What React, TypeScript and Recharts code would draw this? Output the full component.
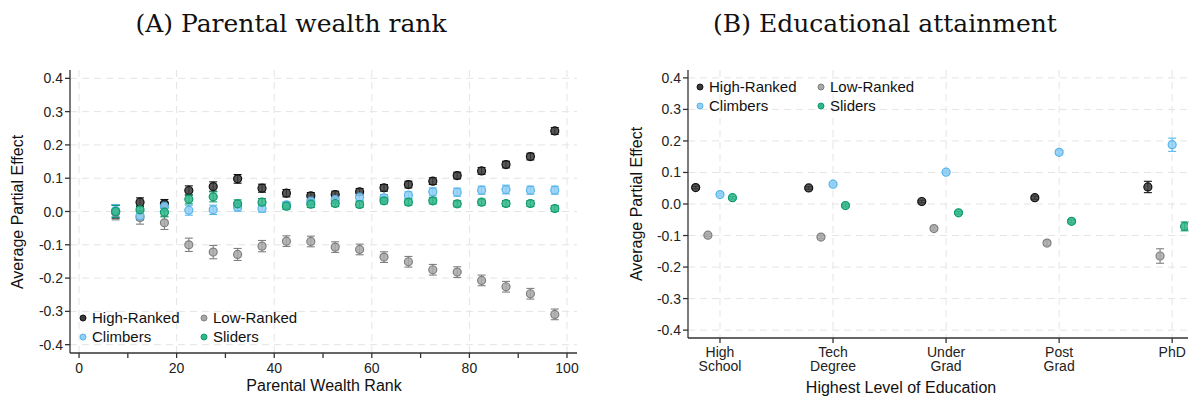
import React from "react";
import {
  ScatterChart,
  Scatter,
  XAxis,
  YAxis,
  CartesianGrid,
  ErrorBar,
  Legend,
} from "recharts";

// Panel A: parental wealth rank bins
const ranks = [7.5, 12.5, 17.5, 22.5, 27.5, 32.5, 37.5, 42.5, 47.5, 52.5, 57.5, 62.5, 67.5, 72.5, 77.5, 82.5, 87.5, 92.5, 97.5];
const highRanked = [0.0, 0.028, 0.023, 0.063, 0.075, 0.098, 0.07, 0.055, 0.047, 0.051, 0.059, 0.071, 0.081, 0.091, 0.108, 0.122, 0.141, 0.165, 0.242];
const highRankedErr = [0.02, 0.013, 0.013, 0.014, 0.014, 0.013, 0.012, 0.011, 0.01, 0.01, 0.01, 0.01, 0.01, 0.01, 0.01, 0.01, 0.01, 0.01, 0.01];
const lowRanked = [-0.003, -0.018, -0.034, -0.1, -0.122, -0.129, -0.104, -0.089, -0.09, -0.107, -0.114, -0.137, -0.151, -0.175, -0.182, -0.207, -0.226, -0.247, -0.309];
const lowRankedErr = [0.022, 0.02, 0.02, 0.02, 0.02, 0.018, 0.017, 0.016, 0.016, 0.016, 0.016, 0.016, 0.016, 0.016, 0.016, 0.016, 0.016, 0.016, 0.016];
const climbers = [0.003, -0.013, 0.015, 0.004, 0.005, 0.013, 0.009, 0.02, 0.031, 0.036, 0.043, 0.041, 0.049, 0.059, 0.058, 0.064, 0.066, 0.064, 0.064];
const climbersErr = [0.018, 0.014, 0.014, 0.015, 0.014, 0.012, 0.011, 0.01, 0.01, 0.01, 0.01, 0.01, 0.01, 0.012, 0.012, 0.012, 0.013, 0.012, 0.012];
const sliders = [0.0, 0.005, -0.002, 0.037, 0.044, 0.023, 0.028, 0.016, 0.022, 0.024, 0.021, 0.032, 0.028, 0.032, 0.023, 0.028, 0.024, 0.024, 0.009];
const slidersErr = [0.018, 0.013, 0.014, 0.014, 0.015, 0.012, 0.011, 0.01, 0.01, 0.009, 0.009, 0.009, 0.009, 0.009, 0.009, 0.009, 0.009, 0.009, 0.009];

// Panel B: education levels
const eduLevels = ["High\nSchool", "Tech\nDegree", "Under\nGrad", "Post\nGrad", "PhD"];
const eduHigh = [0.052, 0.051, 0.008, 0.02, 0.054];
const eduHighErr = [0.004, 0.004, 0.004, 0.005, 0.018];
const eduLow = [-0.099, -0.105, -0.078, -0.124, -0.165];
const eduLowErr = [0.004, 0.005, 0.005, 0.007, 0.023];
const eduClimb = [0.03, 0.063, 0.101, 0.164, 0.188];
const eduClimbErr = [0.004, 0.004, 0.004, 0.006, 0.021];
const eduSlid = [0.02, -0.005, -0.028, -0.055, -0.071];
const eduSlidErr = [0.004, 0.004, 0.004, 0.005, 0.014];

const yTicks = [-0.4, -0.35, -0.3, -0.25, -0.2, -0.15, -0.1, -0.05, 0, 0.05, 0.1, 0.15, 0.2, 0.25, 0.3, 0.35, 0.4];
const yMajor = [-0.4, -0.3, -0.2, -0.1, 0, 0.1, 0.2, 0.3, 0.4];
const xTicksA = [0, 10, 20, 30, 40, 50, 60, 70, 80, 90, 100];
const xMajorA = [0, 20, 40, 60, 80, 100];

const series = [
  { key: "high", name: "High-Ranked", fill: "#3a3a3a", stroke: "#111111", dodge: -0.215 },
  { key: "low", name: "Low-Ranked", fill: "#a8a8a8", stroke: "#808080", dodge: -0.107 },
  { key: "climb", name: "Climbers", fill: "#92cff4", stroke: "#56b4e9", dodge: 0 },
  { key: "slid", name: "Sliders", fill: "#33b68a", stroke: "#0e9a6d", dodge: 0.11 },
];

const panelA = {
  high: ranks.map((x, i) => ({ x, y: highRanked[i], err: highRankedErr[i] })),
  low: ranks.map((x, i) => ({ x, y: lowRanked[i], err: lowRankedErr[i] })),
  climb: ranks.map((x, i) => ({ x, y: climbers[i], err: climbersErr[i] })),
  slid: ranks.map((x, i) => ({ x, y: sliders[i], err: slidersErr[i] })),
};

const mk = (vals, errs, dodge) => vals.map((y, i) => ({ x: i + 1 + dodge, y, err: errs[i] }));
const panelB = {
  high: mk(eduHigh, eduHighErr, series[0].dodge),
  low: mk(eduLow, eduLowErr, series[1].dodge),
  climb: mk(eduClimb, eduClimbErr, series[2].dodge),
  slid: mk(eduSlid, eduSlidErr, series[3].dodge),
};

const SANS = "'Liberation Sans', Arial, Helvetica, sans-serif";
const SERIF = "'DejaVu Serif', serif";
const AXIS = "#333333";
const GRID = "#e4e4e4";

const isMajorY = (v) => yMajor.some((m) => Math.abs(m - v) < 1e-9);

const YTick = ({ x, y, payload }) => {
  const v = payload.value;
  if (!isMajorY(v)) return null;
  const label = Math.abs(v) < 1e-9 ? "0.0" : v.toFixed(1);
  return (
    <text x={x} y={y} dy={5} textAnchor="end" fontSize={14} fill="#222" fontFamily={SANS}>
      {label}
    </text>
  );
};

const XTickA = ({ x, y, payload }) => {
  if (!xMajorA.includes(payload.value)) return null;
  return (
    <text x={x} y={y} dy={13} textAnchor="middle" fontSize={14} fill="#222" fontFamily={SANS}>
      {payload.value}
    </text>
  );
};

const XTickB = ({ x, y, payload }) => {
  const lines = eduLevels[payload.value - 1].split("\n");
  return (
    <text x={x} y={y} textAnchor="middle" fontSize={14} fill="#222" fontFamily={SANS}>
      {lines.map((l, i) => (
        <tspan key={i} x={x} dy={i === 0 ? 12 : 14}>
          {l}
        </tspan>
      ))}
    </text>
  );
};

const Dot = (fill, stroke) => (props) => {
  const { cx, cy } = props;
  if (cx == null || cy == null) return null;
  return <circle cx={cx} cy={cy} r={4} fill={fill} fillOpacity={0.85} stroke={stroke} strokeWidth={1.2} />;
};

// 2x2 legend: High-Ranked / Low-Ranked on the first row, Climbers / Sliders on the second
const LegendBox = () => (
  <div
    style={{
      display: "grid",
      gridTemplateColumns: "121px 110px",
      fontFamily: SANS,
      fontSize: 15,
      color: "#111",
      lineHeight: "19px",
      whiteSpace: "nowrap",
    }}
  >
    {series.map((s) => (
      <div key={s.key} style={{ display: "flex", alignItems: "center" }}>
        <svg width={14} height={10}>
          <circle cx={5} cy={5} r={3} fill={s.fill} stroke={s.stroke} strokeWidth={1} />
        </svg>
        <span>{s.name}</span>
      </div>
    ))}
  </div>
);

const renderSeries = (data) =>
  series.map((s) => (
    <Scatter
      key={s.key}
      name={s.name}
      data={data[s.key]}
      fill={s.fill}
      shape={Dot(s.fill, s.stroke)}
      isAnimationActive={false}
    >
      <ErrorBar dataKey="err" direction="y" width={4} stroke={s.stroke} strokeWidth={1.1} isAnimationActive={false} />
    </Scatter>
  ));

const abs = (left, top, extra = {}) => ({ position: "absolute", left, top, ...extra });

export default function App() {
  return (
    <div style={{ position: "absolute", left: 0, top: 0, width: 1190, height: 398, background: "#fff", overflow: "hidden" }}>
      <div style={abs(0, 9, { width: 582, textAlign: "center", fontFamily: SERIF, fontSize: 25, lineHeight: "30px", color: "#111" })}>
        (A) Parental wealth rank
      </div>
      <div style={abs(595, 9, { width: 580, textAlign: "center", fontFamily: SERIF, fontSize: 25, lineHeight: "30px", color: "#111" })}>
        (B) Educational attainment
      </div>

      <div style={abs(0, 0)}>
        <ScatterChart width={590} height={398} margin={{ top: 70, right: 13, bottom: 15, left: 30 }}>
          <CartesianGrid stroke={GRID} strokeDasharray="7 5" horizontalValues={yMajor} verticalValues={xMajorA} />
          <XAxis
            type="number"
            dataKey="x"
            domain={[-1.85, 102.05]}
            ticks={xTicksA}
            tick={XTickA}
            tickSize={5}
            tickMargin={2}
            height={30}
            stroke={AXIS}
            strokeWidth={1.3}
            allowDataOverflow
          />
          <YAxis
            type="number"
            dataKey="y"
            domain={[-0.425, 0.425]}
            ticks={yTicks}
            tick={YTick}
            tickSize={5}
            tickMargin={2}
            width={40}
            stroke={AXIS}
            strokeWidth={1.3}
            allowDataOverflow
          />
          {renderSeries(panelA)}
          <Legend
            verticalAlign="middle"
            layout="horizontal"
            content={LegendBox}
            wrapperStyle={{ position: "absolute", left: 78, top: 308, width: 240 }}
          />
        </ScatterChart>
      </div>

      <div style={abs(595, 0)}>
        <ScatterChart width={595} height={398} margin={{ top: 70, right: 2, bottom: 15, left: 53 }}>
          <CartesianGrid stroke={GRID} strokeDasharray="7 5" horizontalValues={yMajor} verticalValues={[1, 2, 3, 4, 5]} />
          <XAxis
            type="number"
            dataKey="x"
            domain={[0.717, 5.14]}
            ticks={[1, 2, 3, 4, 5]}
            tick={XTickB}
            tickSize={5}
            tickMargin={2}
            height={45}
            stroke={AXIS}
            strokeWidth={1.3}
            allowDataOverflow
          />
          <YAxis
            type="number"
            dataKey="y"
            domain={[-0.425, 0.425]}
            ticks={yTicks}
            tick={YTick}
            tickSize={5}
            tickMargin={2}
            width={40}
            stroke={AXIS}
            strokeWidth={1.3}
            allowDataOverflow
          />
          {renderSeries(panelB)}
          <Legend
            verticalAlign="middle"
            layout="horizontal"
            content={LegendBox}
            wrapperStyle={{ position: "absolute", left: 100, top: 77, width: 240 }}
          />
        </ScatterChart>
      </div>

      <div style={abs(18, 212, { transform: "translate(-50%, -50%) rotate(-90deg)", fontFamily: SANS, fontSize: 16, color: "#111", whiteSpace: "nowrap" })}>
        Average Partial Effect
      </div>
      <div style={abs(637, 204, { transform: "translate(-50%, -50%) rotate(-90deg)", fontFamily: SANS, fontSize: 16, color: "#111", whiteSpace: "nowrap" })}>
        Average Partial Effect
      </div>
      <div style={abs(324, 386, { transform: "translate(-50%, -50%)", fontFamily: SANS, fontSize: 16, color: "#111", whiteSpace: "nowrap" })}>
        Parental Wealth Rank
      </div>
      <div style={abs(901, 388, { transform: "translate(-50%, -50%)", fontFamily: SANS, fontSize: 16, color: "#111", whiteSpace: "nowrap" })}>
        Highest Level of Education
      </div>
    </div>
  );
}
